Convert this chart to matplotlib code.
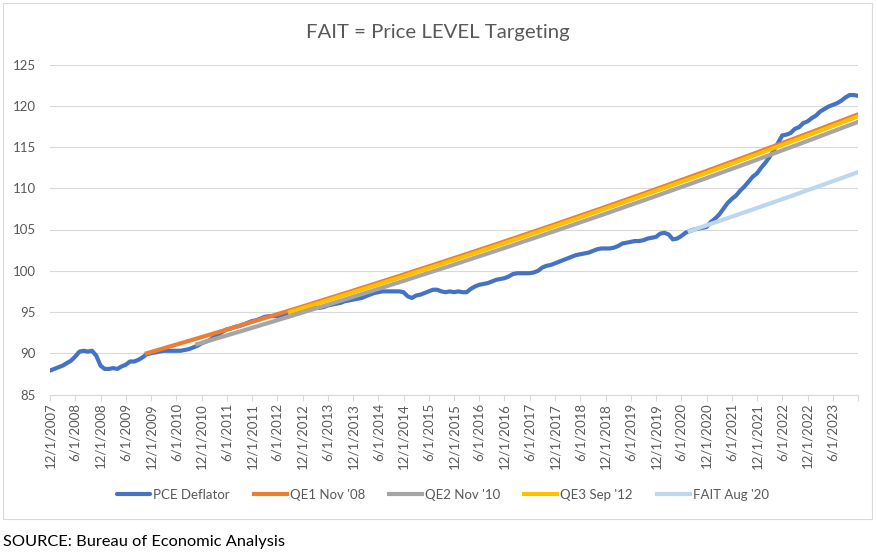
import matplotlib
matplotlib.use("Agg")
import matplotlib.pyplot as plt
from matplotlib.patches import Rectangle
import pandas as pd

plt.rcParams['font.family'] = ['Lato', 'DejaVu Sans']

# ---------------- data ----------------
months = pd.date_range('2007-12-01', '2023-12-01', freq='MS')
categories = [f"{d.month}/1/{d.year}" for d in months]

pce = ([87.9] +
       [88.1, 88.3, 88.5, 88.8, 89.1, 89.6, 90.2, 90.3, 90.2, 90.3, 89.7, 88.5] +   # 2008
       [88.1, 88.1, 88.2, 88.1, 88.4, 88.6, 89.0, 89.0, 89.2, 89.5, 89.9, 90.0] +   # 2009
       [90.1, 90.2, 90.3, 90.3, 90.3, 90.3, 90.3, 90.4, 90.5, 90.7, 90.9, 91.2] +   # 2010
       [91.4, 91.6, 92.0, 92.3, 92.6, 92.9, 93.0, 93.2, 93.3, 93.5, 93.7, 93.9] +   # 2011
       [94.0, 94.2, 94.4, 94.5, 94.5, 94.5, 94.6, 94.8, 95.0, 95.0, 95.1, 95.2] +   # 2012
       [95.3, 95.5, 95.5, 95.5, 95.6, 95.8, 95.9, 96.0, 96.1, 96.3, 96.4, 96.5] +   # 2013
       [96.6, 96.7, 96.9, 97.1, 97.3, 97.4, 97.5, 97.5, 97.5, 97.5, 97.5, 97.4] +   # 2014
       [96.9, 96.7, 97.0, 97.1, 97.3, 97.5, 97.7, 97.7, 97.5, 97.4, 97.5, 97.4] +   # 2015
       [97.5, 97.4, 97.4, 97.8, 98.1, 98.3, 98.4, 98.5, 98.7, 98.9, 99.0, 99.1] +   # 2016
       [99.3, 99.6, 99.7, 99.7, 99.7, 99.7, 99.8, 100.0, 100.4, 100.6, 100.7, 100.9] +  # 2017
       [101.1, 101.3, 101.5, 101.7, 101.9, 102.0, 102.1, 102.2, 102.4, 102.6, 102.7, 102.7] +  # 2018
       [102.7, 102.8, 103.0, 103.3, 103.4, 103.5, 103.6, 103.6, 103.7, 103.9, 104.0, 104.1] +  # 2019
       [104.5, 104.6, 104.4, 103.8, 103.9, 104.2, 104.6, 104.8, 105.0, 105.1, 105.2, 105.3] +  # 2020
       [105.9, 106.3, 106.8, 107.5, 108.2, 108.7, 109.1, 109.7, 110.2, 110.8, 111.4, 111.8] +  # 2021
       [112.5, 113.1, 113.8, 114.6, 115.5, 116.4, 116.5, 116.7, 117.2, 117.4, 117.9, 118.1] +  # 2022
       [118.5, 118.8, 119.3, 119.6, 119.9, 120.1, 120.3, 120.6, 121.0, 121.3, 121.3, 121.2])   # 2023

# target paths (category index, value)
qe1_idx = [23, 35, 47, 59, 71, 83, 95, 107, 119, 131, 143, 155, 167, 179, 191, 192]
qe1_val = [90.0, 91.8, 93.64, 95.51, 97.42, 99.37, 101.36, 103.38, 105.45, 107.56,
           109.71, 111.91, 114.15, 116.43, 118.76, 118.95]
qe2_idx = [35, 47, 59, 71, 83, 95, 107, 119, 131, 143, 155, 167, 179, 191, 192]
qe2_val = [91.1, 92.92, 94.78, 96.68, 98.61, 100.58, 102.59, 104.65, 106.74, 108.88,
           111.05, 113.27, 115.54, 117.85, 118.05]
qe3_idx = [57, 69, 81, 93, 105, 117, 129, 141, 153, 165, 177, 189, 192]
qe3_val = [95.0, 96.9, 98.84, 100.81, 102.83, 104.89, 106.99, 109.13, 111.31, 113.54,
           115.81, 118.12, 118.71]
fait_idx = [152, 164, 176, 188, 192]
fait_val = [104.8, 106.9, 109.03, 111.21, 111.95]

series_names = ["PCE Deflator", "QE1 Nov '08", "QE2 Nov '10", "QE3 Sep '12", "FAIT Aug '20"]
colors = ["#4472C4", "#ED7D31", "#A5A5A5", "#FFC000", "#BDD7EE"]

title = "FAIT = Price LEVEL Targeting"
source = "SOURCE: Bureau of Economic Analysis"
yticks = [85, 90, 95, 100, 105, 110, 115, 120, 125]

# ---------------- figure ----------------
W, H = 877, 553
fig = plt.figure(figsize=(W / 100, H / 100), dpi=100)
ax = fig.add_axes([50 / W, 1 - 394.5 / H, 808 / W, 330 / H])

lw = 3.0
ax.plot(range(len(pce)), pce, color=colors[0], lw=lw, label=series_names[0],
        solid_joinstyle='round', solid_capstyle='round')
ax.plot(qe1_idx, qe1_val, color=colors[1], lw=lw, label=series_names[1])
ax.plot(qe2_idx, qe2_val, color=colors[2], lw=lw, label=series_names[2])
ax.plot(qe3_idx, qe3_val, color=colors[3], lw=lw, label=series_names[3])
ax.plot(fait_idx, fait_val, color=colors[4], lw=lw, label=series_names[4])

ax.set_xlim(0, len(pce) - 1)
ax.set_ylim(85, 125)
ax.set_yticks(yticks)
ax.set_yticklabels([str(v) for v in yticks])

tick_pos = list(range(0, len(pce), 6))
tick_lab = [categories[i] if i < len(pce) - 1 else "" for i in tick_pos]
ax.set_xticks(tick_pos)
ax.set_xticklabels(tick_lab, rotation=90)

ax.grid(axis='y', color='#D9D9D9', lw=0.8)
ax.set_axisbelow(True)
for s in ['left', 'right', 'top']:
    ax.spines[s].set_visible(False)
ax.spines['bottom'].set_color('#D9D9D9')
ax.spines['bottom'].set_linewidth(0.8)

ax.tick_params(axis='y', length=0, pad=10, labelsize=9.5, labelcolor='#595959')
ax.tick_params(axis='x', length=4, width=0.8, color='#D9D9D9', pad=2,
               labelsize=9.5, labelcolor='#595959')

fig.text(437.6 / W, 1 - 32.3 / H, title, ha='center', va='center',
         fontsize=14.7, color='#595959')

handles, labels = ax.get_legend_handles_labels()
fig.legend(handles, labels, loc='center', bbox_to_anchor=(443 / W, 1 - 495 / H),
           ncol=5, frameon=False, fontsize=9.5, labelcolor='#595959',
           handlelength=2.5, handletextpad=0.25, columnspacing=1.8)

fig.patches.append(Rectangle((3 / W, 1 - 519 / H), 869 / W, 516 / H,
                             transform=fig.transFigure, fill=False,
                             edgecolor='#D9D9D9', lw=0.8))

fig.text(3 / W, 1 - 542.3 / H, source, ha='left', va='center',
         fontsize=11.8, color='black')

fig.savefig('out.png', dpi=100)
